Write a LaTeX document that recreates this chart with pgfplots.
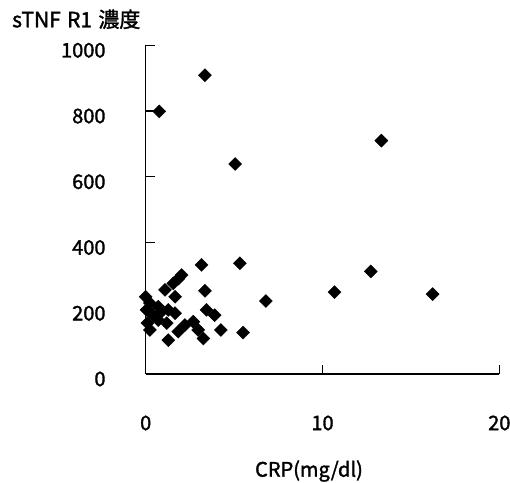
\documentclass[border=0pt]{standalone}
\usepackage{fontspec}
\setmainfont{Noto Sans CJK JP}[FakeBold=1.6]
\usepackage{pgfplots}
\pgfplotsset{compat=1.18}
\begin{document}
\fontsize{20bp}{24bp}\selectfont
\begin{tikzpicture}
\path[use as bounding box] (-145.7bp,-109bp) rectangle (364.3bp,374bp);
\begin{axis}[
    scale only axis,
    width=353.6bp, height=328.7bp,
    xmin=0, xmax=20, ymin=0, ymax=1000,
    axis x line=bottom, axis y line=left,
    axis line style={-, line width=1.2bp},
    xtick={0,10,20}, ytick={0,200,400,600,800,1000},
    tick align=inside, major tick length=9bp,
    tick style={black, line width=1.2bp},
    /pgf/number format/assume math mode=true,
    /pgf/number format/1000 sep={},
    xticklabel style={anchor=center, inner sep=0pt, yshift=-49bp},
    yticklabel style={anchor=east, inner sep=0pt, xshift=-40bp, yshift=-5bp},
    title={sTNF\hspace{0.3em}R1\hspace{0.3em}濃度},
    title style={at={(axis description cs:0,1)}, anchor=west, inner sep=0pt,
        xshift=-133.7bp, yshift=20bp, font=\fontsize{21bp}{24bp}\selectfont},
    xlabel={CRP(mg/dl)},
    xlabel style={at={(axis description cs:0.5,0)}, anchor=center, inner sep=0pt, xshift=-13.5bp, yshift=-97bp},
    clip=false,
]
    % sTNF R1 vs CRP
    \addplot[only marks, mark=square*, mark size=4.6bp,
        mark options={rotate=45, fill=black, draw=black}] coordinates {
        (0.77,799) (3.35,909) (5.06,639) (13.33,710)
        (5.33,337) (3.16,332) (12.73,312) (10.68,249)
        (16.23,243) (6.80,222) (3.35,253)
        (4.25,134) (5.51,126)
        (3.44,195) (3.90,179) (2.69,159) (2.97,134) (3.26,108)
        (2.03,301) (1.56,276) (1.09,256) (1.66,235) (1.85,290)
        (0.00,235) (0.05,195) (0.10,155) (0.24,134) (0.24,216)
        (0.71,205) (1.28,195) (1.66,185) (0.71,164) (1.19,155)
        (1.28,103) (1.84,129) (2.22,149) (0.40,180) (0.90,190)
    };
\end{axis}
\end{tikzpicture}
\end{document}
